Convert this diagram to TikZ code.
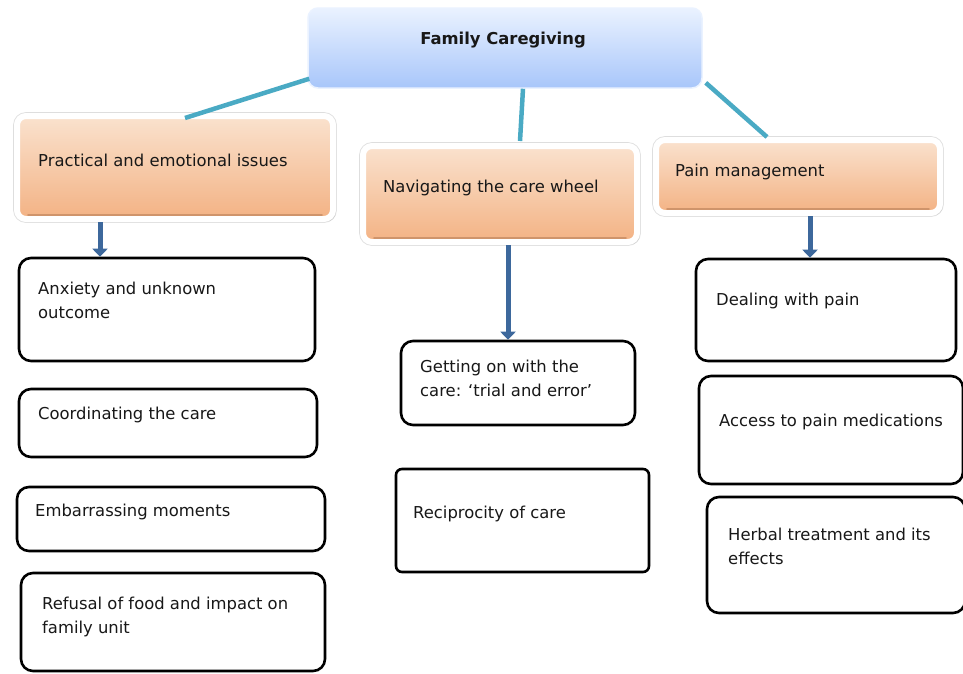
\documentclass[tikz,border=0pt]{standalone}
\usepackage{fontspec}
\setmainfont{DejaVu Sans}
\usetikzlibrary{arrows.meta,shadows}

\definecolor{peachtop}{RGB}{250,226,206}
\definecolor{peachbot}{RGB}{243,178,132}
\definecolor{peachedge}{RGB}{196,138,98}
\definecolor{skytop}{RGB}{234,242,255}
\definecolor{skybot}{RGB}{168,198,250}
\definecolor{tealline}{RGB}{74,170,196}
\definecolor{arrowblue}{RGB}{61,104,156}
\definecolor{inktext}{RGB}{24,24,24}
\definecolor{framegray}{RGB}{222,222,222}

\begin{document}
\begin{tikzpicture}[x=1pt,y=-1pt,
  rootbox/.style={rectangle, rounded corners=10pt, inner sep=0pt,
    draw=skytop, line width=1.5pt, top color=skytop, bottom color=skybot},
  topicbox/.style={rectangle, rounded corners=9pt, inner sep=0pt,
    preaction={draw=framegray, line width=7.6pt},
    draw=white, line width=6pt, top color=peachtop, bottom color=peachbot,
    drop shadow={shadow xshift=1.2pt, shadow yshift=-2pt, shadow scale=1.01, opacity=0.2}},
  leafbox/.style={rectangle, rounded corners=12pt, inner sep=0pt,
    draw=black, line width=2.6pt, fill=white},
  caption/.style={anchor=base west, inner sep=0pt, align=left, text=inktext,
    font=\fontsize{16.4}{24.5}\selectfont},
  spoke/.style={draw=tealline, line width=4.5pt},
  rim/.style={draw=peachedge, line width=1.6pt, opacity=0.75, line cap=round},
  downarrow/.style={draw=arrowblue, line width=5pt,
    -{Triangle[width=15pt,length=8pt]}}
]
\useasboundingbox (0,0) rectangle (963,673);
\clip (0,0) rectangle (963,673);
\fill[white] (0,0) rectangle (963,673);

% root
\node[rootbox, minimum width=394pt, minimum height=80pt] (fc) at (505,48) {};
\node[anchor=base, inner sep=0pt, text=inktext,
      font=\fontsize{16.4}{20}\selectfont\bfseries] (fc-t) at (503,44) {Family Caregiving};

% three topics
\node[topicbox, minimum width=316pt, minimum height=103pt] (pe) at (175,167.5) {};
\node[topicbox, minimum width=274pt, minimum height=96pt] (nv) at (500,194) {};
\node[topicbox, minimum width=284pt, minimum height=73pt] (pm) at (798,176.5) {};
% darker lower rim inside each topic box
\foreach \b in {pe,nv,pm}
  \draw[rim] ([shift={(14,-7)}]\b.south west) -- ([shift={(-14,-7)}]\b.south east);
\node[caption] (pe-t) at (38,166) {Practical and emotional issues};
\node[caption] (nv-t) at (383,192) {Navigating the care wheel};
\node[caption] (pm-t) at (675,176) {Pain management};

% spokes from the root
\draw[spoke] ([shift={(2,-10)}]fc.south west) -- ([shift={(10,5)}]pe.north);
\draw[spoke] ([xshift=18pt]fc.south) -- ([shift={(20,-2)}]nv.north);
\draw[spoke] ([shift={(3,-6)}]fc.south east) -- ([shift={(-31,0)}]pm.north);

% leaves, column 1
\node[leafbox, minimum width=296pt, minimum height=103pt] (ax) at (167,309.5) {};
\node[leafbox, minimum width=298pt, minimum height=68pt]  (co) at (168,423) {};
\node[leafbox, minimum width=308pt, minimum height=64pt]  (em) at (171,519) {};
\node[leafbox, minimum width=304pt, minimum height=98pt]  (rf) at (173,622) {};
\node[caption] (ax-t) at (38,318.5) {Anxiety and unknown\\outcome};
\node[caption] (co-t) at (38,419) {Coordinating the care};
\node[caption] (em-t) at (35,516) {Embarrassing moments};
\node[caption] (rf-t) at (42,633.5) {Refusal of food and impact on\\family unit};

% leaves, column 2
\node[leafbox, minimum width=234pt, minimum height=84pt] (gt) at (518,383) {};
\node[leafbox, rounded corners=6pt, minimum width=253pt, minimum height=103pt] (rc) at (522.5,520.5) {};
\node[caption] (gt-t) at (420,396.5) {Getting on with the\\care: `trial and error'};
\node[caption] (rc-t) at (413,518) {Reciprocity of care};

% leaves, column 3
\node[leafbox, minimum width=260pt, minimum height=102pt] (dl) at (826,310) {};
\node[leafbox, minimum width=264pt, minimum height=108pt] (ac) at (831,430) {};
\node[leafbox, minimum width=258pt, minimum height=116pt] (hb) at (836,555) {};
\node[caption] (dl-t) at (716,305) {Dealing with pain};
\node[caption] (ac-t) at (719,426) {Access to pain medications};
\node[caption] (hb-t) at (728,564.5) {Herbal treatment and its\\effects};

% arrows from topics to their first leaves
\draw[downarrow] ([xshift=86pt]pe.south west) -- ([xshift=86pt]pe.south west |- ax.north);
\draw[downarrow] ([xshift=148pt]nv.south west) -- ([xshift=148pt]nv.south west |- gt.north);
\draw[downarrow] ([xshift=157pt]pm.south west) -- ([xshift=157pt]pm.south west |- dl.north);
\end{tikzpicture}
\end{document}
